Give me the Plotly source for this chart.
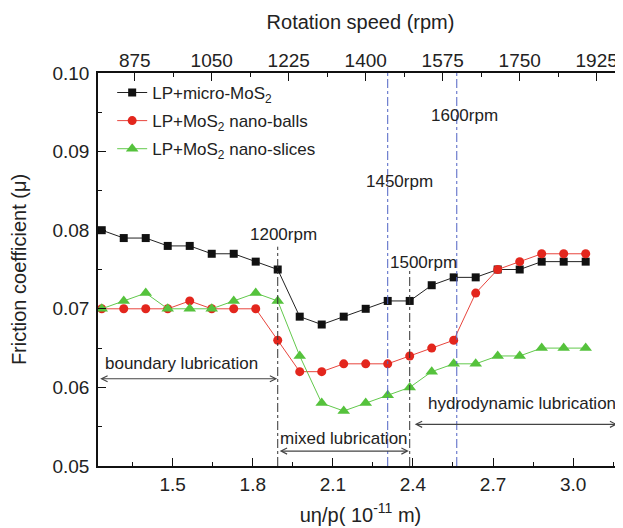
import plotly.graph_objects as go

# ---- data ----
rpm = [800, 850, 900, 950, 1000, 1050, 1100, 1150, 1200, 1250, 1300, 1350,
       1400, 1450, 1500, 1550, 1600, 1650, 1700, 1750, 1800, 1850, 1900]
micro = [0.080, 0.079, 0.079, 0.078, 0.078, 0.077, 0.077, 0.076, 0.075, 0.069, 0.068, 0.069,
         0.070, 0.071, 0.071, 0.073, 0.074, 0.074, 0.075, 0.075, 0.076, 0.076, 0.076]
balls = [0.070, 0.070, 0.070, 0.070, 0.071, 0.070, 0.070, 0.070, 0.066, 0.062, 0.062, 0.063,
         0.063, 0.063, 0.064, 0.065, 0.066, 0.072, 0.075, 0.076, 0.077, 0.077, 0.077]
slices = [0.070, 0.071, 0.072, 0.070, 0.070, 0.070, 0.071, 0.072, 0.071, 0.064, 0.058, 0.057,
          0.058, 0.059, 0.060, 0.062, 0.063, 0.063, 0.064, 0.064, 0.065, 0.065, 0.065]
series_names = ["LP+micro-MoS<sub>2</sub>", "LP+MoS<sub>2</sub> nano-balls", "LP+MoS<sub>2</sub> nano-slices"]

top_ticks = [875, 1050, 1225, 1400, 1575, 1750, 1925]
bottom_ticks = [1.5, 1.8, 2.1, 2.4, 2.7, 3.0]
y_ticks = [0.05, 0.06, 0.07, 0.08, 0.09, 0.10]

top_range = [791.5, 1984.8]
bottom_range = [1.22, 3.187]

FONT = "Liberation Sans, Arial, Helvetica, sans-serif"
fig = go.Figure()

# empty helper trace so the bottom (secondary scale) axis is rendered
fig.add_trace(go.Scatter(x=bottom_range, y=[None, None], xaxis="x", yaxis="y",
                         mode="lines", showlegend=False, hoverinfo="skip"))

styles = [
    dict(color="#111111", line="#222222", symbol="square", size=8),
    dict(color="#e3261d", line="#e8453d", symbol="circle", size=9),
    dict(color="#55c23c", line="#62c94c", symbol="triangle-up", size=11),
]
for i, (name, vals, st) in enumerate(zip(series_names, [micro, balls, slices], styles)):
    fig.add_trace(go.Scatter(
        x=rpm, y=vals, name=name, xaxis="x2", yaxis="y", legendgroup=f"g{i}",
        mode="lines+markers",
        line=dict(color=st["line"], width=1),
        marker=dict(color=st["color"], symbol=st["symbol"], size=st["size"], line=dict(width=0)),
    ))

# vertical reference lines
def vline(x, y0, y1, color):
    fig.add_shape(type="line", xref="x2", yref="y", x0=x, x1=x, y0=y0, y1=y1,
                  line=dict(color=color, width=1, dash="dashdot"))

vline(1200, 0.05, 0.0779, "#333333")
vline(1500, 0.05, 0.0752, "#333333")
vline(1450, 0.05, 0.10, "#4f62c4")
vline(1607, 0.05, 0.10, "#4f62c4")

def label(x, y, text):
    fig.add_annotation(x=x, y=y, xref="x2", yref="y", text=text, showarrow=False,
                       font=dict(size=17, color="#222222", family=FONT))

label(1213, 0.0794, "1200rpm")
label(1476, 0.0862, "1450rpm")
label(1625, 0.0946, "1600rpm")
label(1531, 0.0759, "1500rpm")
label(981, 0.0631, "boundary lubrication")
label(1350, 0.0535, "mixed lubrication")
label(1756, 0.0579, "hydrodynamic lubrication")

def darrow(x0, x1, y):
    fig.add_annotation(x=x1, y=y, ax=x0, ay=y, xref="x2", yref="y", axref="x2", ayref="y",
                       text="", showarrow=True, arrowhead=5, startarrowhead=5,
                       arrowside="end+start", arrowsize=1, startarrowsize=1,
                       arrowwidth=1.2, arrowcolor="#444444")

darrow(793, 1199, 0.0611)
darrow(1201, 1498, 0.0519)
darrow(1508, 1972, 0.0553)

axis_common = dict(showline=True, linecolor="#111111", linewidth=1.5, ticks="inside",
                   ticklen=8, tickwidth=1.3, tickcolor="#111111", showgrid=False, zeroline=False,
                   automargin=False,
                   tickfont=dict(size=19, color="#222222", family=FONT))

# page body has an 8px default margin: figure is sized/margined to compensate
fig.update_layout(
    width=615, height=520,
    margin=dict(l=90, r=0, t=65, b=62),
    paper_bgcolor="white", plot_bgcolor="white",
    font=dict(family=FONT, color="#222222"),
    showlegend=True,
    legend=dict(x=0.027, y=0.995, xanchor="left", yanchor="top",
                font=dict(size=17, family=FONT, color="#222222"),
                bgcolor="rgba(0,0,0,0)", tracegroupgap=3),
    xaxis=dict(range=bottom_range, tickmode="array", tickvals=bottom_ticks,
               ticktext=[f"{v:.1f}" for v in bottom_ticks],
               minor=dict(ticks="inside", ticklen=4, dtick=0.15, tick0=1.5, tickcolor="#111111"),
               title=dict(text="u\u03b7/p( 10<sup>-11</sup> m)", font=dict(size=20, family=FONT),
                          standoff=14),
               anchor="y", side="bottom", **axis_common),
    xaxis2=dict(range=top_range, tickmode="array", tickvals=top_ticks,
                ticktext=[str(v) for v in top_ticks],
                minor=dict(ticks="inside", ticklen=4, dtick=87.5, tick0=875, tickcolor="#111111"),
                title=dict(text="Rotation speed (rpm)", font=dict(size=20, family=FONT), standoff=15),
                ticklabelstandoff=-3,
                overlaying="x", side="top", anchor="y", **axis_common),
    yaxis=dict(range=[0.05, 0.10], tickmode="array", tickvals=y_ticks,
               ticktext=[f"{v:.2f}" for v in y_ticks],
               minor=dict(ticks="inside", ticklen=4, dtick=0.005, tick0=0.05, tickcolor="#111111"),
               title=dict(text="Friction coefficient (\u03bc)", font=dict(size=20, family=FONT),
                          standoff=22),
               ticklabelstandoff=3,
               **axis_common),
)

fig.write_html("out.html")
